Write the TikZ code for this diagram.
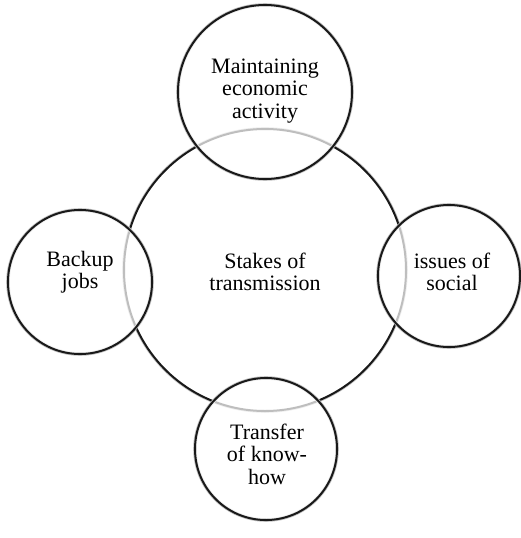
\documentclass[tikz,border=0pt]{standalone}
\usepackage{fontspec}
\setmainfont{Liberation Serif}
\usepackage{tikz}

\tikzset{
  ring/.style={circle, draw=black!90, line width=2pt, fill=white, fill opacity=0.72, draw opacity=1, inner sep=0pt,
    preaction={draw=black!25, line width=3.6pt}},
  hub/.style={circle, draw=black!90, line width=2pt, fill=white, inner sep=0pt,
    preaction={draw=black!25, line width=3.6pt}},
  caption/.style={align=center, font=\fontsize{22}{22.5}\selectfont}
}

\begin{document}
\begin{tikzpicture}[x=1pt,y=-1pt]
\useasboundingbox (0,0) rectangle (520,538);
\node (stakes) [hub, minimum size=282pt] at (265,270) {};
\node (economy) [ring, minimum size=174pt] at (265,92) {};
\node (backup) [ring, minimum size=144pt] at (80,282) {};
\node (social) [ring, minimum size=142pt] at (449,276) {};
\node (knowhow) [ring, minimum size=142pt] at (266,449) {};
\node (stakestext) [caption] at (265,272) {Stakes of\\transmission};
\node (economytext) [caption] at (265,91) {Maintaining\\economic\\activity};
\node (backuptext) [caption] at (80,272) {Backup\\jobs};
\node (socialtext) [caption] at (452,272) {issues of\\social};
\node (knowhowtext) [caption] at (267,454) {Transfer\\of know-\\how};
\end{tikzpicture}
\end{document}
